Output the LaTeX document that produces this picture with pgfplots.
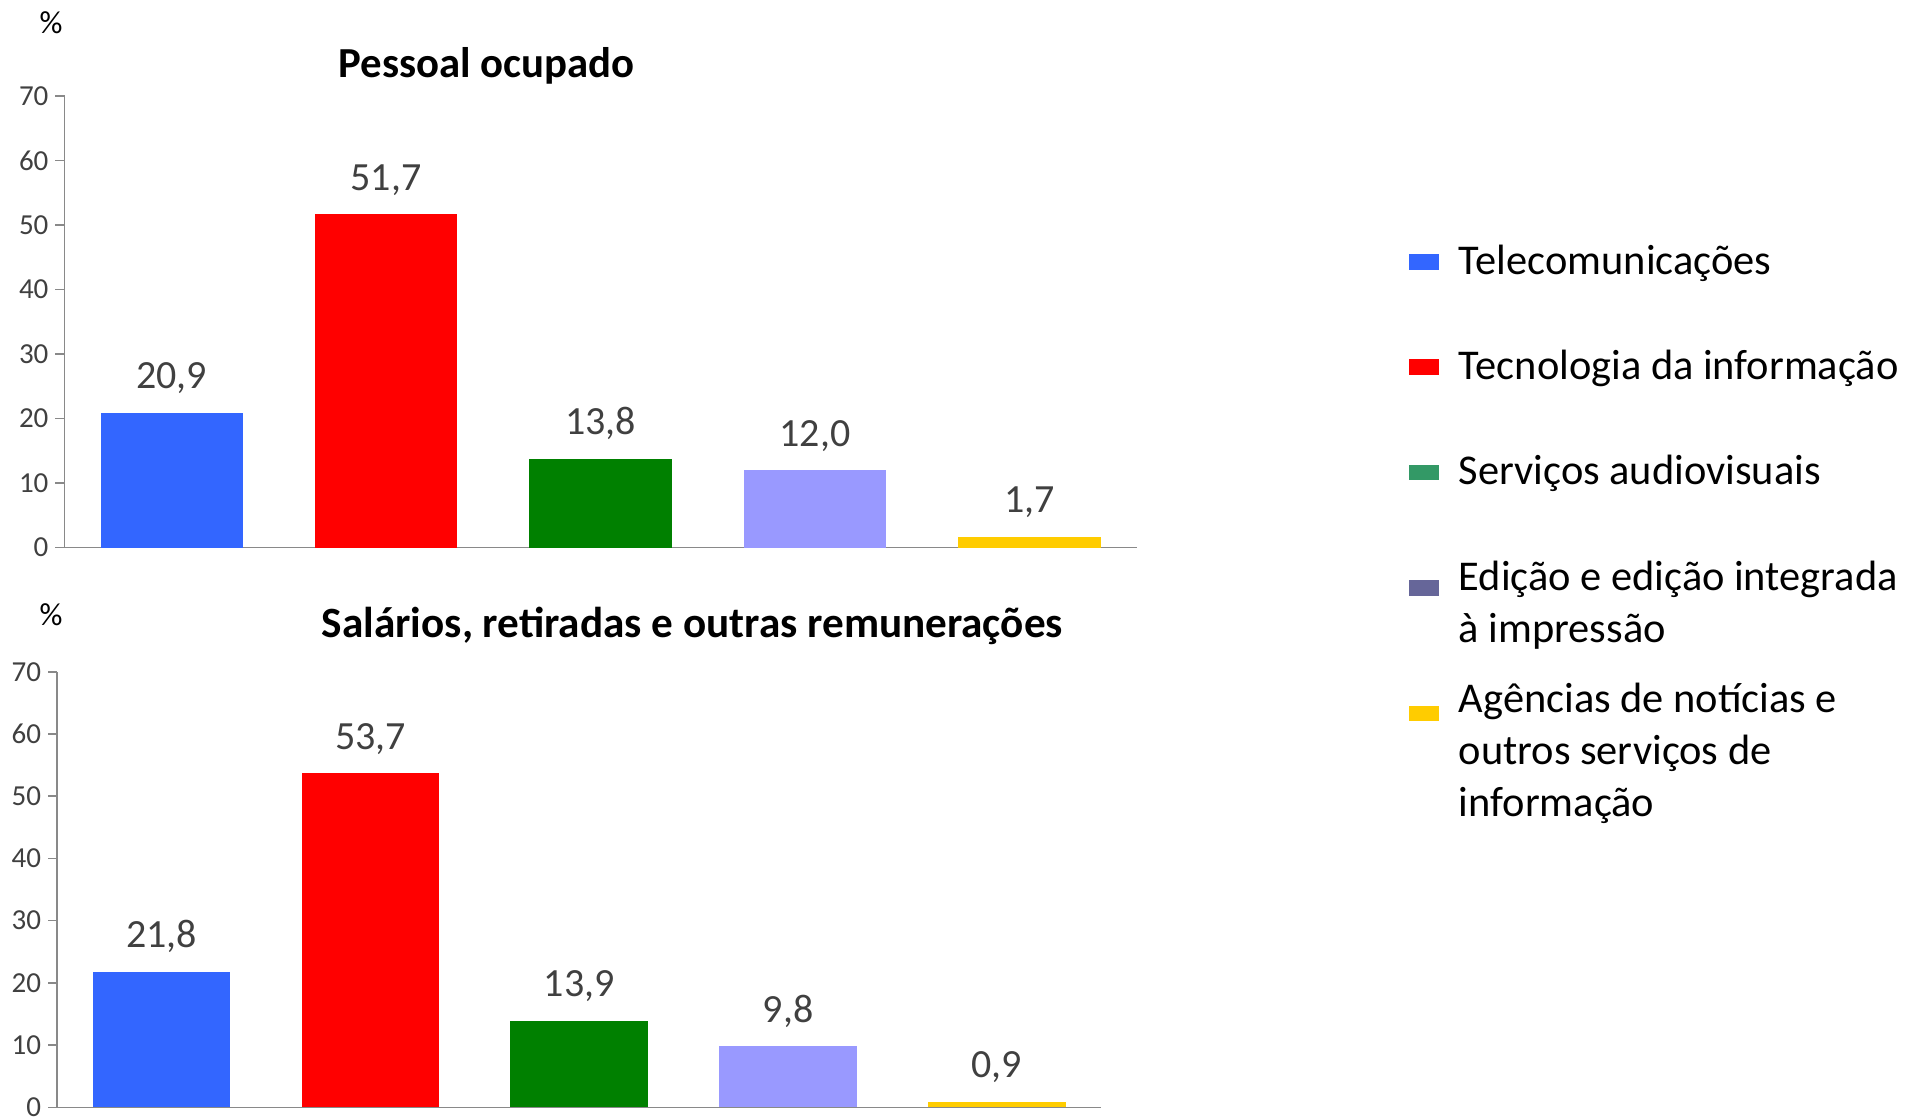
\documentclass[border=0pt]{standalone}
\usepackage{fontspec}
\setmainfont{Carlito}
\usepackage{pgfplots}
\pgfplotsset{compat=1.18}

\definecolor{cblue}{HTML}{3366FF}
\definecolor{cred}{HTML}{FF0000}
\definecolor{cgreen}{HTML}{008000}
\definecolor{cviolet}{HTML}{9999FF}
\definecolor{cyellow}{HTML}{FFCC00}
\definecolor{lgreen}{HTML}{339966}
\definecolor{lviolet}{HTML}{666699}
\definecolor{axgray}{HTML}{898989}
\definecolor{txtgray}{HTML}{404040}

\pgfplotsset{
  sharebars/.style={
    scale only axis,
    ybar, bar width=#1,
    xmin=-0.5, xmax=4.5, ymin=0, ymax=70,
    xtick=\empty, ytick={0,10,...,70},
    axis lines=left,
    axis line style={-, draw=axgray, line width=0.8pt},
    tick align=outside, major tick length=4.5pt,
    tick style={draw=axgray, line width=0.8pt},
    yticklabel style={font=\fontsize{14.5}{16}\selectfont, text=txtgray},
    /pgf/number format/assume math mode=true,
    nodes near coords={\pgfmathprintnumber[fixed, fixed zerofill, precision=1, use comma]{\pgfplotspointmeta}},
    every node near coord/.append style={font=\fontsize{20}{24}\selectfont, text=txtgray, anchor=base, yshift=12pt},
    every axis plot/.append style={draw=none, bar shift=0pt},
  },
  frame/.style={
    at={(0pt,0pt)}, anchor=south west,
    scale only axis, width=954pt, height=558pt,
    xmin=0, xmax=1908, ymin=0, ymax=1116,
    hide axis, clip=false,
    legend style={at={(0.7385,#1)}, anchor=north west,
      draw=none, fill=none, inner sep=0pt, outer sep=0pt,
      row sep=33pt, column sep=10pt,
      nodes={inner sep=0pt, anchor=base west, font=\fontsize{21.2}{26}\selectfont, text=black},
      cells={anchor=base west}},
  },
  lgsq/.style 2 args={legend image code/.code={\fill[#1] (0pt,#2-3.65pt) rectangle (14.5pt,#2+3.65pt);}},
}

\begin{document}
\begin{tikzpicture}
\path[use as bounding box] (0,0) rectangle (954pt,558pt);
\clip (0,0) rectangle (954pt,558pt);

% frame axis in pixel units: titles and first legend entries
\begin{axis}[frame=0.7871]
\addlegendimage{lgsq={cblue}{6.1pt}}
\addlegendentry{\begin{tabular}[t]{@{}l@{}}Telecomunicações\end{tabular}}
\addlegendimage{lgsq={cred}{6.1pt}}
\addlegendentry{\begin{tabular}[t]{@{}l@{}}Tecnologia da informação\end{tabular}}
\addlegendimage{lgsq={lgreen}{6.1pt}}
\addlegendentry{\begin{tabular}[t]{@{}l@{}}Serviços audiovisuais\end{tabular}}
\addlegendimage{lgsq={lviolet}{1.2pt}}
\addlegendentry{\begin{tabular}[t]{@{}l@{}}Edição e edição integrada\\à impressão\end{tabular}}

\node[font=\bfseries\fontsize{21.4}{25}\selectfont, anchor=base] at (axis cs:486.7,1038) {Pessoal ocupado};
\node[font=\bfseries\fontsize{21.6}{25}\selectfont, anchor=base] at (axis cs:692.4,478.4) {Salários, retiradas e outras remunerações};
\node[font=\fontsize{16}{18}\selectfont, anchor=base] at (axis cs:51,1082) {\%};
\node[font=\fontsize{16}{18}\selectfont, anchor=base] at (axis cs:51,490.6) {\%};
\end{axis}

% last legend entry
\begin{axis}[frame=0.3944]
\addlegendimage{lgsq={cyellow}{-0.6pt}}
\addlegendentry{\begin{tabular}[t]{@{}l@{}}Agências de notícias e\\outros serviços de\\informação\end{tabular}}
\end{axis}

% Pessoal ocupado
\begin{axis}[sharebars=71.2pt, at={(32.25pt,284.2pt)}, anchor=south west,
  width=536pt, height=225.75pt]
\addplot[fill=cblue] coordinates {(0,20.9)};
\addplot[fill=cred] coordinates {(1,51.7)};
\addplot[fill=cgreen] coordinates {(2,13.8)};
\addplot[fill=cviolet] coordinates {(3,12.0)};
\addplot[fill=cyellow] coordinates {(4,1.7)};
\end{axis}

% Salarios, retiradas e outras remuneracoes
\begin{axis}[sharebars=68.8pt, at={(28.6pt,4.35pt)}, anchor=south west,
  width=522pt, height=217.8pt]
\addplot[fill=cblue] coordinates {(0,21.8)};
\addplot[fill=cred] coordinates {(1,53.7)};
\addplot[fill=cgreen] coordinates {(2,13.9)};
\addplot[fill=cviolet] coordinates {(3,9.8)};
\addplot[fill=cyellow] coordinates {(4,0.9)};
\end{axis}
\end{tikzpicture}
\end{document}
